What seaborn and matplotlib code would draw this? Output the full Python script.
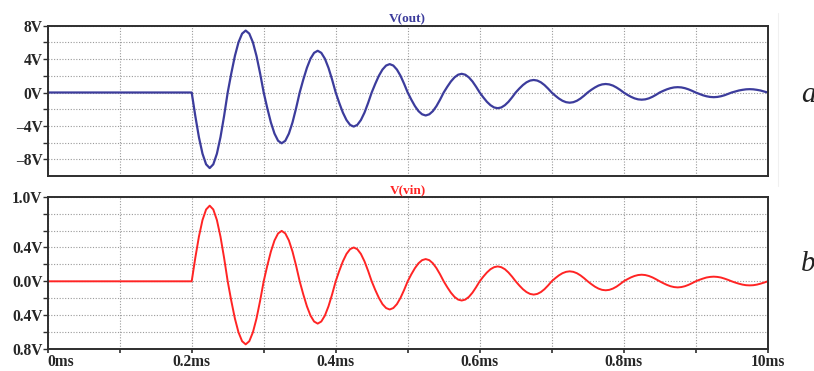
import numpy as np
import pandas as pd
import matplotlib
matplotlib.use("Agg")
import matplotlib.pyplot as plt
import seaborn as sns
from matplotlib.lines import Line2D

# ---- data (time in ms, volts) ----
T_MS = [0.0,
        0.200, 0.205, 0.210, 0.215, 0.220, 0.225, 0.230, 0.235, 0.240, 0.245,
        0.250, 0.255, 0.260, 0.265, 0.270, 0.275, 0.280, 0.285, 0.290, 0.295,
        0.300, 0.305, 0.310, 0.315, 0.320, 0.325, 0.330, 0.335, 0.340, 0.345,
        0.350, 0.355, 0.360, 0.365, 0.370, 0.375, 0.380, 0.385, 0.390, 0.395,
        0.400, 0.405, 0.410, 0.415, 0.420, 0.425, 0.430, 0.435, 0.440, 0.445,
        0.450, 0.455, 0.460, 0.465, 0.470, 0.475, 0.480, 0.485, 0.490, 0.495,
        0.500, 0.505, 0.510, 0.515, 0.520, 0.525, 0.530, 0.535, 0.540, 0.545,
        0.550, 0.555, 0.560, 0.565, 0.570, 0.575, 0.580, 0.585, 0.590, 0.595,
        0.600, 0.605, 0.610, 0.615, 0.620, 0.625, 0.630, 0.635, 0.640, 0.645,
        0.650, 0.655, 0.660, 0.665, 0.670, 0.675, 0.680, 0.685, 0.690, 0.695,
        0.700, 0.705, 0.710, 0.715, 0.720, 0.725, 0.730, 0.735, 0.740, 0.745,
        0.750, 0.755, 0.760, 0.765, 0.770, 0.775, 0.780, 0.785, 0.790, 0.795,
        0.800, 0.805, 0.810, 0.815, 0.820, 0.825, 0.830, 0.835, 0.840, 0.845,
        0.850, 0.855, 0.860, 0.865, 0.870, 0.875, 0.880, 0.885, 0.890, 0.895,
        0.900, 0.905, 0.910, 0.915, 0.920, 0.925, 0.930, 0.935, 0.940, 0.945,
        0.950, 0.955, 0.960, 0.965, 0.970, 0.975, 0.980, 0.985, 0.990, 0.995,
        1.000]

V_OUT = [0.0,
         0.0, -2.81, -5.34, -7.33, -8.6, -9.05, -8.6, -7.33, -5.34, -2.81,
         0.0, 2.3, 4.38, 6.01, 7.05, 7.42, 7.05, 6.01, 4.38, 2.3,
         0.0, -1.88, -3.59, -4.92, -5.78, -6.08, -5.78, -4.92, -3.59, -1.88,
         0.0, 1.55, 2.95, 4.05, 4.75, 5.0, 4.75, 4.05, 2.95, 1.55,
         0.0, -1.26, -2.41, -3.3, -3.88, -4.08, -3.88, -3.3, -2.41, -1.26,
         0.0, 1.05, 2.01, 2.75, 3.23, 3.4, 3.23, 2.75, 2.01, 1.05,
         0.0, -0.85, -1.62, -2.23, -2.61, -2.75, -2.61, -2.23, -1.62, -0.85,
         0.0, 0.69, 1.32, 1.81, 2.13, 2.24, 2.13, 1.81, 1.32, 0.69,
         0.0, -0.58, -1.11, -1.52, -1.79, -1.88, -1.79, -1.52, -1.11, -0.58,
         0.0, 0.47, 0.89, 1.22, 1.43, 1.5, 1.43, 1.22, 0.89, 0.47,
         0.0, -0.38, -0.72, -0.99, -1.16, -1.22, -1.16, -0.99, -0.72, -0.38,
         0.0, 0.32, 0.6, 0.83, 0.97, 1.02, 0.97, 0.83, 0.6, 0.32,
         0.0, -0.27, -0.51, -0.7, -0.82, -0.86, -0.82, -0.7, -0.51, -0.27,
         0.0, 0.2, 0.38, 0.52, 0.61, 0.64, 0.61, 0.52, 0.38, 0.2,
         0.0, -0.17, -0.33, -0.45, -0.53, -0.56, -0.53, -0.45, -0.33, -0.17,
         0.0, 0.12, 0.24, 0.32, 0.38, 0.40, 0.38, 0.32, 0.24, 0.12,
         0.0]

V_VIN = [0.0,
         0.0, 0.277, 0.527, 0.724, 0.849, 0.894, 0.849, 0.724, 0.527, 0.277,
         0.0, -0.231, -0.44, -0.603, -0.708, -0.745, -0.708, -0.603, -0.44, -0.231,
         0.0, 0.185, 0.352, 0.483, 0.566, 0.596, 0.566, 0.483, 0.352, 0.185,
         0.0, -0.155, -0.295, -0.405, -0.475, -0.5, -0.475, -0.405, -0.295, -0.155,
         0.0, 0.124, 0.236, 0.324, 0.38, 0.40, 0.38, 0.324, 0.236, 0.124,
         0.0, -0.103, -0.196, -0.27, -0.316, -0.333, -0.316, -0.27, -0.196, -0.103,
         0.0, 0.082, 0.155, 0.213, 0.25, 0.263, 0.25, 0.213, 0.155, 0.082,
         0.0, -0.07, -0.134, -0.184, -0.216, -0.227, -0.216, -0.184, -0.134, -0.07,
         0.0, 0.055, 0.104, 0.143, 0.167, 0.176, 0.167, 0.143, 0.104, 0.055,
         0.0, -0.049, -0.093, -0.127, -0.149, -0.157, -0.149, -0.127, -0.093, -0.049,
         0.0, 0.037, 0.07, 0.096, 0.112, 0.118, 0.112, 0.096, 0.07, 0.037,
         0.0, -0.033, -0.063, -0.086, -0.101, -0.106, -0.101, -0.086, -0.063, -0.033,
         0.0, 0.024, 0.046, 0.063, 0.074, 0.078, 0.074, 0.063, 0.046, 0.024,
         0.0, -0.022, -0.042, -0.058, -0.068, -0.072, -0.068, -0.058, -0.042, -0.022,
         0.0, 0.017, 0.032, 0.045, 0.052, 0.055, 0.052, 0.045, 0.032, 0.017,
         0.0, -0.015, -0.028, -0.039, -0.046, -0.048, -0.046, -0.039, -0.028, -0.015,
         0.0]

X_TICKS = [0.0, 0.1, 0.2, 0.3, 0.4, 0.5, 0.6, 0.7, 0.8, 0.9, 1.0]
X_LABELS = ["0ms", "", "0.2ms", "", "0.4ms", "", "0.6ms", "", "0.8ms", "", "10ms"]

OUT_TICKS = [8, 6, 4, 2, 0, -2, -4, -6, -8]
OUT_LABELS = ["8V", "", "4V", "", "0V", "", "–4V", "", "–8V"]

VIN_TICKS = [1.0, 0.8, 0.6, 0.4, 0.2, 0.0, -0.2, -0.4, -0.6, -0.8]
VIN_LABELS = ["1.0V", "", "", "0.4V", "", "0.0V", "", "0.4V", "", "0.8V"]

BLUE = "#3c3c9c"
RED = "#ff2424"
SPINE = "#2e2e2e"
GRID = "#9a9a9a"
TICK_FS = 11.2

df = pd.DataFrame({"t": T_MS, "out": V_OUT, "vin": V_VIN})

sns.set_style("white")
plt.rcParams["font.family"] = ["Liberation Serif", "DejaVu Serif"]

fig = plt.figure(figsize=(8.14, 3.71), dpi=100)
ax1 = fig.add_axes([0.0586, 0.5256, 0.8845, 0.4051])
ax2 = fig.add_axes([0.0586, 0.0593, 0.8845, 0.4105])

sns.lineplot(data=df, x="t", y="out", ax=ax1, color=BLUE, lw=1.6)
sns.lineplot(data=df, x="t", y="vin", ax=ax2, color=RED, lw=1.4)


def style_axis(ax, yticks, ylabels, ylim, show_x):
    ax.set_xlim(0, 1.0)
    ax.set_ylim(*ylim)
    ax.set_xlabel("")
    ax.set_ylabel("")
    ax.set_xticks(X_TICKS)
    ax.set_yticks(yticks)
    ax.set_yticklabels(ylabels, fontsize=TICK_FS, fontweight="bold")
    ax.grid(True, color=GRID, linestyle=(0, (1, 1.5)), lw=0.8)
    ax.set_axisbelow(True)
    for s in ax.spines.values():
        s.set_color(SPINE)
        s.set_linewidth(1.4)
    ax.tick_params(axis="y", direction="out", length=3.5, width=1.0,
                   color=SPINE, pad=0.3, left=True)
    if show_x:
        ax.set_xticklabels(X_LABELS, fontsize=TICK_FS, fontweight="bold")
        ax.tick_params(axis="x", direction="out", length=3.0, width=1.2,
                       color=SPINE, pad=0.5, bottom=True)
        lbl = ax.get_xticklabels()[0]
        lbl.set_horizontalalignment("left")
        lbl.set_x(-0.004)
    else:
        ax.set_xticklabels([])
        ax.tick_params(axis="x", length=0)


style_axis(ax1, OUT_TICKS, OUT_LABELS, (-10, 8), False)
style_axis(ax2, VIN_TICKS, VIN_LABELS, (-0.8, 1.0), True)

ax1.set_title("V(out)", color=BLUE, fontsize=9.5, fontweight="bold", pad=2.5)
ax2.set_title("V(vin)", color=RED, fontsize=9.5, fontweight="bold", pad=2.5)

# faint separator and panel letters on the right
fig.add_artist(Line2D([778 / 814, 778 / 814], [1 - 13 / 371, 1 - 186 / 371],
                      transform=fig.transFigure, color="#f0f0f0", lw=0.8))
fig.text(801 / 814, 1 - 95 / 371, "a", fontsize=21, style="italic",
         ha="left", va="center", color="#222222")
fig.text(801 / 814, 1 - 264 / 371, "b", fontsize=21, style="italic",
         ha="left", va="center", color="#222222")

fig.savefig("out.png", dpi=100)
